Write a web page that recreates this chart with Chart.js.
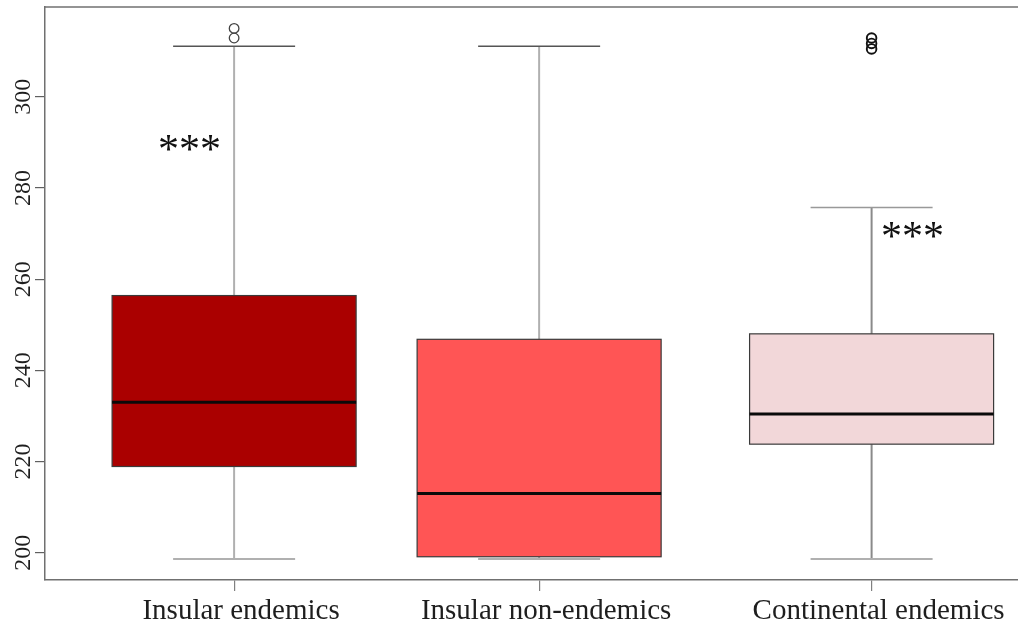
<!DOCTYPE html>
<html>
<head>
<meta charset="utf-8">
<title>Box plot by group</title>
<script src="https://cdn.jsdelivr.net/npm/chart.js@4/dist/chart.umd.min.js"></script>
<style>
  html, body { margin: 0; padding: 0; background: #ffffff; }
  #wrap { width: 1018px; height: 627px; position: relative; }
</style>
</head>
<body>
<div id="wrap"><canvas id="chart"></canvas></div>
<script>
// Groups and their five-number summaries
const categories = ['Insular endemics', 'Insular non-endemics', 'Continental endemics'];
const lowerWhisker = [198.6, 198.6, 198.6];
const lowerQuartile = [218.9, 199.1, 223.8];
const medians = [233.0, 213.0, 230.4];
const upperQuartile = [256.4, 246.8, 248.0];
const upperWhisker = [311.1, 311.1, 275.7];
const outliers = [[312.9, 315.0], [], [310.5, 311.7, 312.9]];
const significance = ['***', '', '***'];
const yTickValues = [200, 220, 240, 260, 280, 300];

// Layout: where each box sits on the x axis, and where the significance marks go
const BOX_AT = [1, 2, 3.09];
const BOX_WIDTH = 0.8;
const CAP_WIDTH = 0.4;
const MARK_POS = [{ dx: -0.146, y: 289.8 }, null, { dx: 0.134, y: 270.8 }];

// Styles
const FILLS = ['#aa0000', '#ff5555', '#f2d7d9'];
const WHISKER_COLORS = ['#b0b0b0', '#b0b0b0', '#8a8a8a'];
const TOP_CAP_COLORS = ['#555555', '#555555', '#999999'];
const AXIS_COLOR = '#707070';
const TEXT_COLOR = '#1e1e1e';
const SERIF = '"Liberation Serif", "Times New Roman", serif';

const outlierPoints = [];
outliers.forEach((vals, i) => vals.forEach(v => outlierPoints.push({ x: BOX_AT[i], y: v, g: i })));

function line(ctx, x1, y1, x2, y2, color, width) {
  ctx.beginPath();
  ctx.strokeStyle = color;
  ctx.lineWidth = width;
  ctx.moveTo(x1, y1);
  ctx.lineTo(x2, y2);
  ctx.stroke();
}

const boxPlotPlugin = {
  id: 'boxPlot',
  beforeDatasetsDraw(chart) {
    const { ctx } = chart;
    const xs = chart.scales.x, ys = chart.scales.y;
    ctx.save();
    categories.forEach((name, i) => {
      const cx = xs.getPixelForValue(BOX_AT[i]);
      const left = xs.getPixelForValue(BOX_AT[i] - BOX_WIDTH / 2);
      const right = xs.getPixelForValue(BOX_AT[i] + BOX_WIDTH / 2);
      const capL = xs.getPixelForValue(BOX_AT[i] - CAP_WIDTH / 2);
      const capR = xs.getPixelForValue(BOX_AT[i] + CAP_WIDTH / 2);
      const yLo = ys.getPixelForValue(lowerWhisker[i]);
      const yQ1 = ys.getPixelForValue(lowerQuartile[i]);
      const yMed = ys.getPixelForValue(medians[i]);
      const yQ3 = ys.getPixelForValue(upperQuartile[i]);
      const yHi = ys.getPixelForValue(upperWhisker[i]);

      // whiskers and caps
      line(ctx, cx, yQ1, cx, yLo, WHISKER_COLORS[i], 2);
      line(ctx, cx, yQ3, cx, yHi, WHISKER_COLORS[i], 2);
      line(ctx, capL, yLo, capR, yLo, '#b0b0b0', 2);
      line(ctx, capL, yHi, capR, yHi, TOP_CAP_COLORS[i], 1.6);

      // box
      ctx.fillStyle = FILLS[i];
      ctx.fillRect(left, yQ3, right - left, yQ1 - yQ3);
      ctx.strokeStyle = '#3a3a3a';
      ctx.lineWidth = 1.2;
      ctx.strokeRect(left, yQ3, right - left, yQ1 - yQ3);

      // median
      line(ctx, left, yMed, right, yMed, '#0a0a0a', 3);
    });
    ctx.restore();
  },
  afterDraw(chart) {
    const { ctx, chartArea } = chart;
    const xs = chart.scales.x, ys = chart.scales.y;
    ctx.save();
    // top frame line
    line(ctx, chartArea.left - 0.75, chartArea.top, chart.width, chartArea.top, AXIS_COLOR, 1.5);

    // rotated y tick labels
    ctx.fillStyle = TEXT_COLOR;
    ctx.font = '24px ' + SERIF;
    ctx.textAlign = 'center';
    ctx.textBaseline = 'alphabetic';
    ys.ticks.forEach(t => {
      const py = ys.getPixelForValue(t.value);
      ctx.save();
      ctx.translate(chartArea.left - 15, py);
      ctx.rotate(-Math.PI / 2);
      ctx.fillText(String(t.value), 0, 0);
      ctx.restore();
    });

    // significance marks
    ctx.font = '42px ' + SERIF;
    ctx.fillStyle = '#111111';
    significance.forEach((txt, i) => {
      if (!txt || !MARK_POS[i]) return;
      const px = xs.getPixelForValue(BOX_AT[i] + MARK_POS[i].dx);
      const py = ys.getPixelForValue(MARK_POS[i].y);
      const m = ctx.measureText(txt);
      const base = py + (m.actualBoundingBoxAscent - m.actualBoundingBoxDescent) / 2;
      ctx.textAlign = 'center';
      ctx.fillText(txt, px, base);
    });
    ctx.restore();
  }
};

new Chart(document.getElementById('chart'), {
  type: 'scatter',
  data: {
    datasets: [{
      label: 'Outliers',
      data: outlierPoints,
      pointStyle: 'circle',
      pointRadius: 4.8,
      pointHoverRadius: 4.8,
      backgroundColor: 'rgba(0,0,0,0)',
      borderColor: ctx => (ctx.raw && ctx.raw.g === 2) ? '#111111' : '#444444',
      borderWidth: ctx => (ctx.raw && ctx.raw.g === 2) ? 1.9 : 1.3
    }]
  },
  options: {
    responsive: true,
    maintainAspectRatio: false,
    animation: false,
    layout: { autoPadding: false, padding: { top: 7, right: 0, bottom: 0, left: 0 } },
    plugins: {
      legend: { display: false },
      tooltip: { enabled: false },
      title: { display: false }
    },
    scales: {
      x: {
        type: 'linear',
        min: 0.38,
        max: 3.57,
        afterBuildTicks: s => { s.ticks = BOX_AT.map(v => ({ value: v })); },
        afterFit: s => { s.height = 47; s.paddingLeft = 0; s.paddingRight = 0; },
        ticks: {
          callback: (v, i) => categories[i],
          font: { family: SERIF, size: 29 },
          color: TEXT_COLOR,
          padding: 3,
          labelOffset: 7,
          maxRotation: 0,
          minRotation: 0,
          autoSkip: false
        },
        grid: { drawOnChartArea: false, drawTicks: true, tickLength: 11, color: '#808080', lineWidth: 1.2 },
        border: { display: true, color: AXIS_COLOR, width: 1.5 }
      },
      y: {
        type: 'linear',
        min: 194.0,
        max: 319.7,
        afterBuildTicks: s => { s.ticks = yTickValues.map(v => ({ value: v })); },
        afterFit: s => { s.width = 45; s.paddingTop = 0; s.paddingBottom = 0; },
        ticks: { display: false },
        grid: { drawOnChartArea: false, drawTicks: true, tickLength: 10, color: '#606060', lineWidth: 1.2 },
        border: { display: true, color: AXIS_COLOR, width: 1.5 }
      }
    }
  },
  plugins: [boxPlotPlugin]
});
</script>
</body>
</html>
